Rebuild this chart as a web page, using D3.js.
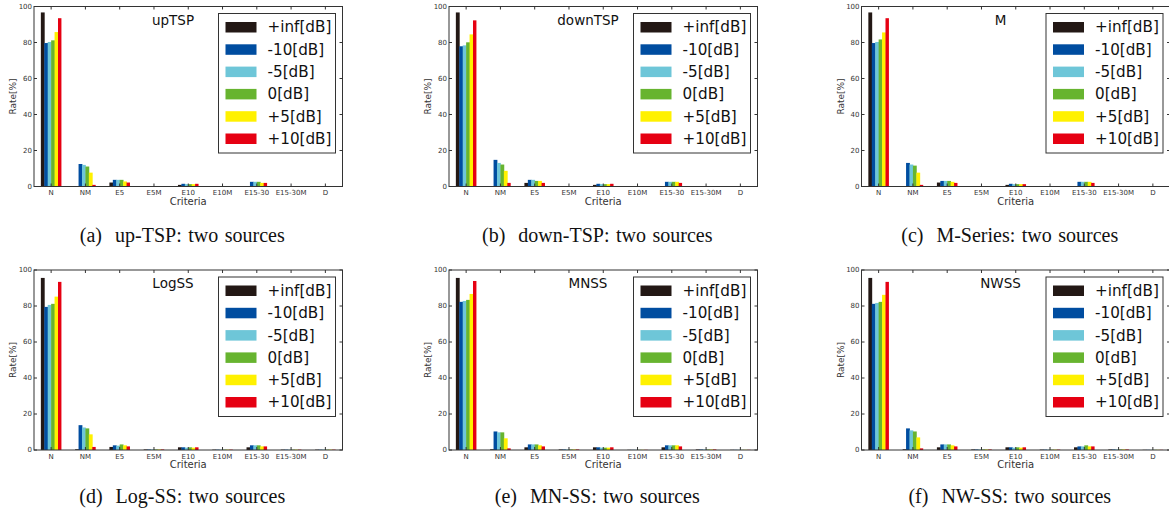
<!DOCTYPE html>
<html>
<head>
<meta charset="utf-8">
<script src="https://cdn.jsdelivr.net/npm/d3@7"></script>
<style>
  body { margin: 0; background: #fff; }
  svg { display: block; }
  .tick-label { font-family: "DejaVu Sans", sans-serif; font-size: 7px; fill: #333; }
  .axis-title { font-family: "DejaVu Sans", sans-serif; fill: #333; }
  .legend-text { font-family: "DejaVu Sans", sans-serif; font-size: 15.2px; fill: #111; }
  .panel-title { font-family: "DejaVu Sans", sans-serif; font-size: 13.5px; fill: #111; }
  .caption { font-family: "Liberation Serif", "Times New Roman", serif; font-size: 20px; fill: #111; word-spacing: 1.5px; }
</style>
</head>
<body>
<div id="chart"></div>
<script>
// categories and series
var categories = ["N", "NM", "E5", "E5M", "E10", "E10M", "E15-30", "E15-30M", "D"];
var seriesNames = ["+inf[dB]", "-10[dB]", "-5[dB]", "0[dB]", "+5[dB]", "+10[dB]"];
var yTicks = [0, 20, 40, 60, 80, 100];

var panelTitles = ["upTSP", "downTSP", "M", "LogSS", "MNSS", "NWSS"];
var captions = ["(a)  up-TSP: two sources", "(b)  down-TSP: two sources", "(c)  M-Series: two sources",
                "(d)  Log-SS: two sources", "(e)  MN-SS: two sources", "(f)  NW-SS: two sources"];

// rate[%] per series (rows) and category (columns)
var upTSP = [
  [96.7, 0.1, 2.2, 0.2, 0.9, 0.1, 0.1, 0.1, 0],
  [79.7, 12.5, 3.7, 0.2, 1.5, 0.1, 2.6, 0.1, 0],
  [80.3, 12.0, 3.7, 0.1, 1.3, 0.1, 2.6, 0.1, 0],
  [81.2, 11.1, 3.7, 0.1, 1.3, 0.1, 2.6, 0.1, 0],
  [85.8, 7.7, 2.8, 0.2, 1.3, 0.1, 2.0, 0.1, 0],
  [93.5, 0.9, 2.2, 0.2, 1.5, 0.1, 2.0, 0.1, 0]
];
var downTSP = [
  [96.7, 0.1, 2.0, 0.2, 0.9, 0.1, 0.1, 0.05, 0],
  [77.9, 14.8, 3.7, 0.2, 1.5, 0.1, 2.6, 0.05, 0],
  [78.4, 13.1, 3.7, 0.2, 1.3, 0.1, 2.6, 0.05, 0],
  [80.1, 12.2, 3.1, 0.2, 1.3, 0.1, 2.6, 0.05, 0],
  [84.5, 8.7, 3.1, 0.2, 1.3, 0.1, 2.6, 0.05, 0],
  [92.3, 2.0, 2.0, 0.2, 1.5, 0.1, 2.0, 0.05, 0]
];
var mSeries = [
  [96.7, 0.1, 2.2, 0.2, 0.9, 0.1, 0.1, 0.1, 0],
  [79.7, 13.1, 3.1, 0.2, 1.5, 0.1, 2.6, 0.1, 0],
  [80.3, 12.2, 3.1, 0.2, 1.3, 0.1, 2.6, 0.1, 0],
  [81.7, 11.6, 3.1, 0.2, 1.3, 0.1, 2.6, 0.1, 0],
  [85.6, 7.7, 2.6, 0.2, 1.3, 0.1, 2.6, 0.1, 0],
  [93.5, 0.9, 2.0, 0.2, 1.3, 0.1, 2.0, 0.1, 0]
];
var logSS = [
  [95.6, 0.4, 1.7, 0.3, 1.5, 0.2, 1.5, 0.2, 0.2],
  [79.5, 13.8, 2.6, 0.3, 1.5, 0.2, 2.6, 0.2, 0.2],
  [80.6, 12.5, 2.4, 0.3, 1.3, 0.2, 2.6, 0.2, 0.2],
  [81.2, 12.0, 3.1, 0.3, 1.5, 0.2, 2.6, 0.2, 0.2],
  [85.2, 8.7, 2.6, 0.3, 1.3, 0.2, 2.0, 0.2, 0.2],
  [93.4, 1.7, 2.0, 0.3, 1.5, 0.2, 2.0, 0.2, 0.2]
];
var mnSS = [
  [95.6, 0.4, 1.5, 0.3, 1.5, 0.1, 1.5, 0.3, 0.1],
  [82.3, 10.3, 3.1, 0.3, 1.5, 0.1, 2.6, 0.3, 0.1],
  [82.8, 9.8, 3.1, 0.3, 1.3, 0.1, 2.6, 0.3, 0.1],
  [83.4, 9.8, 3.1, 0.3, 1.3, 0.1, 2.6, 0.3, 0.1],
  [86.7, 6.5, 2.6, 0.3, 1.3, 0.1, 2.6, 0.3, 0.1],
  [93.9, 0.9, 2.0, 0.3, 1.5, 0.1, 2.0, 0.3, 0.1]
];
var nwSS = [
  [95.6, 0.4, 1.5, 0.3, 1.5, 0.2, 1.5, 0.3, 0.1],
  [81.2, 12.0, 3.1, 0.3, 1.5, 0.2, 2.0, 0.3, 0.1],
  [81.7, 10.9, 3.1, 0.3, 1.3, 0.2, 2.0, 0.3, 0.1],
  [82.3, 10.3, 3.1, 0.3, 1.5, 0.2, 2.6, 0.3, 0.1],
  [86.2, 7.0, 2.6, 0.3, 1.3, 0.2, 2.0, 0.3, 0.1],
  [93.4, 0.9, 2.0, 0.3, 1.5, 0.2, 2.0, 0.3, 0.1]
];
var panelData = [upTSP, downTSP, mSeries, logSS, mnSS, nwSS];

var colors = ["#231815", "#004da0", "#6ec6d8", "#67b42f", "#fff100", "#e60012"];

var svgWidth = 1169, svgHeight = 514;
var plotW = 308.5, plotH = 180;
var lefts = [34, 449, 861.5];
var tops = [6.5, 270];
var captionY = [242, 503];
var barW = 0.1;

var svg = d3.select("#chart")
    .append("svg")
    .attr("width", svgWidth)
    .attr("height", svgHeight);

panelData.forEach(function (rows, p) {
    var row = Math.floor(p / 3);
    var left = lefts[p % 3], top = tops[row];
    var g = svg.append("g")
        .attr("transform", "translate(" + left + "," + top + ")");

    // scale
    var x = d3.scaleLinear().domain([0, categories.length]).range([0, plotW]);
    var y = d3.scaleLinear().domain([0, 100]).range([plotH, 0]);

    // bars (tiny overlap so no white seams between neighbours)
    rows.forEach(function (vals, s) {
        g.append("g")
            .selectAll("rect")
            .data(vals)
            .join("rect")
            .attr("x", (d, i) => x(i + 0.2 + s * barW))
            .attr("width", x(barW) - x(0) + (s < rows.length - 1 ? 0.4 : 0))
            .attr("y", d => y(d))
            .attr("height", d => y(0) - y(d))
            .attr("fill", colors[s]);
    });

    // frame
    g.append("rect")
        .attr("width", plotW).attr("height", plotH)
        .attr("fill", "none").attr("stroke", "#333").attr("stroke-width", 1);

    // inward ticks on all four sides
    var tickLen = 3;
    var xt = categories.map((c, i) => i + 0.5);
    g.append("g").selectAll("line").data(xt).join("line")
        .attr("x1", d => x(d)).attr("x2", d => x(d))
        .attr("y1", plotH).attr("y2", plotH - tickLen)
        .attr("stroke", "#333");
    g.append("g").selectAll("line").data(xt).join("line")
        .attr("x1", d => x(d)).attr("x2", d => x(d))
        .attr("y1", 0).attr("y2", tickLen)
        .attr("stroke", "#333");
    g.append("g").selectAll("line").data(yTicks).join("line")
        .attr("x1", 0).attr("x2", tickLen)
        .attr("y1", d => y(d)).attr("y2", d => y(d))
        .attr("stroke", "#333");
    g.append("g").selectAll("line").data(yTicks).join("line")
        .attr("x1", plotW).attr("x2", plotW - tickLen)
        .attr("y1", d => y(d)).attr("y2", d => y(d))
        .attr("stroke", "#333");

    // tick labels
    g.append("g").selectAll("text").data(yTicks).join("text")
        .attr("class", "tick-label")
        .attr("x", -2).attr("y", d => y(d)).attr("dy", "0.35em")
        .attr("text-anchor", "end")
        .text(d => d);
    g.append("g").selectAll("text").data(categories).join("text")
        .attr("class", "tick-label")
        .attr("x", (d, i) => x(i + 0.5)).attr("y", plotH + 8.5)
        .attr("text-anchor", "middle")
        .text(d => d);

    // axis titles
    g.append("text")
        .attr("class", "axis-title")
        .attr("transform", "translate(" + (-18) + "," + (plotH / 2) + ") rotate(-90)")
        .attr("text-anchor", "middle")
        .style("font-size", "9px")
        .text("Rate[%]");
    g.append("text")
        .attr("class", "axis-title")
        .attr("x", plotW / 2).attr("y", plotH + 18)
        .attr("text-anchor", "middle")
        .style("font-size", "10px")
        .text("Criteria");

    // panel title
    g.append("text")
        .attr("class", "panel-title")
        .attr("x", 139).attr("y", 18)
        .attr("text-anchor", "middle")
        .text(panelTitles[p]);

    // legend
    var lg = g.append("g")
        .attr("transform", "translate(" + (plotW - 124) + ",7)");
    lg.append("rect")
        .attr("width", 117).attr("height", 139.5)
        .attr("fill", "#fff").attr("stroke", "#333").attr("stroke-width", 1);
    seriesNames.forEach(function (name, s) {
        var cy = 13.5 + s * 22.3;
        lg.append("rect")
            .attr("x", 7).attr("y", cy - 5)
            .attr("width", 31).attr("height", 10.5)
            .attr("fill", colors[s]);
        lg.append("text")
            .attr("class", "legend-text")
            .attr("x", 49).attr("y", cy).attr("dy", "0.36em")
            .text(name);
    });

    // caption
    svg.append("text")
        .attr("class", "caption")
        .attr("x", left + plotW / 2 - 6)
        .attr("y", captionY[row])
        .attr("text-anchor", "middle")
        .style("white-space", "pre")
        .text(captions[p]);
});
</script>
</body>
</html>
